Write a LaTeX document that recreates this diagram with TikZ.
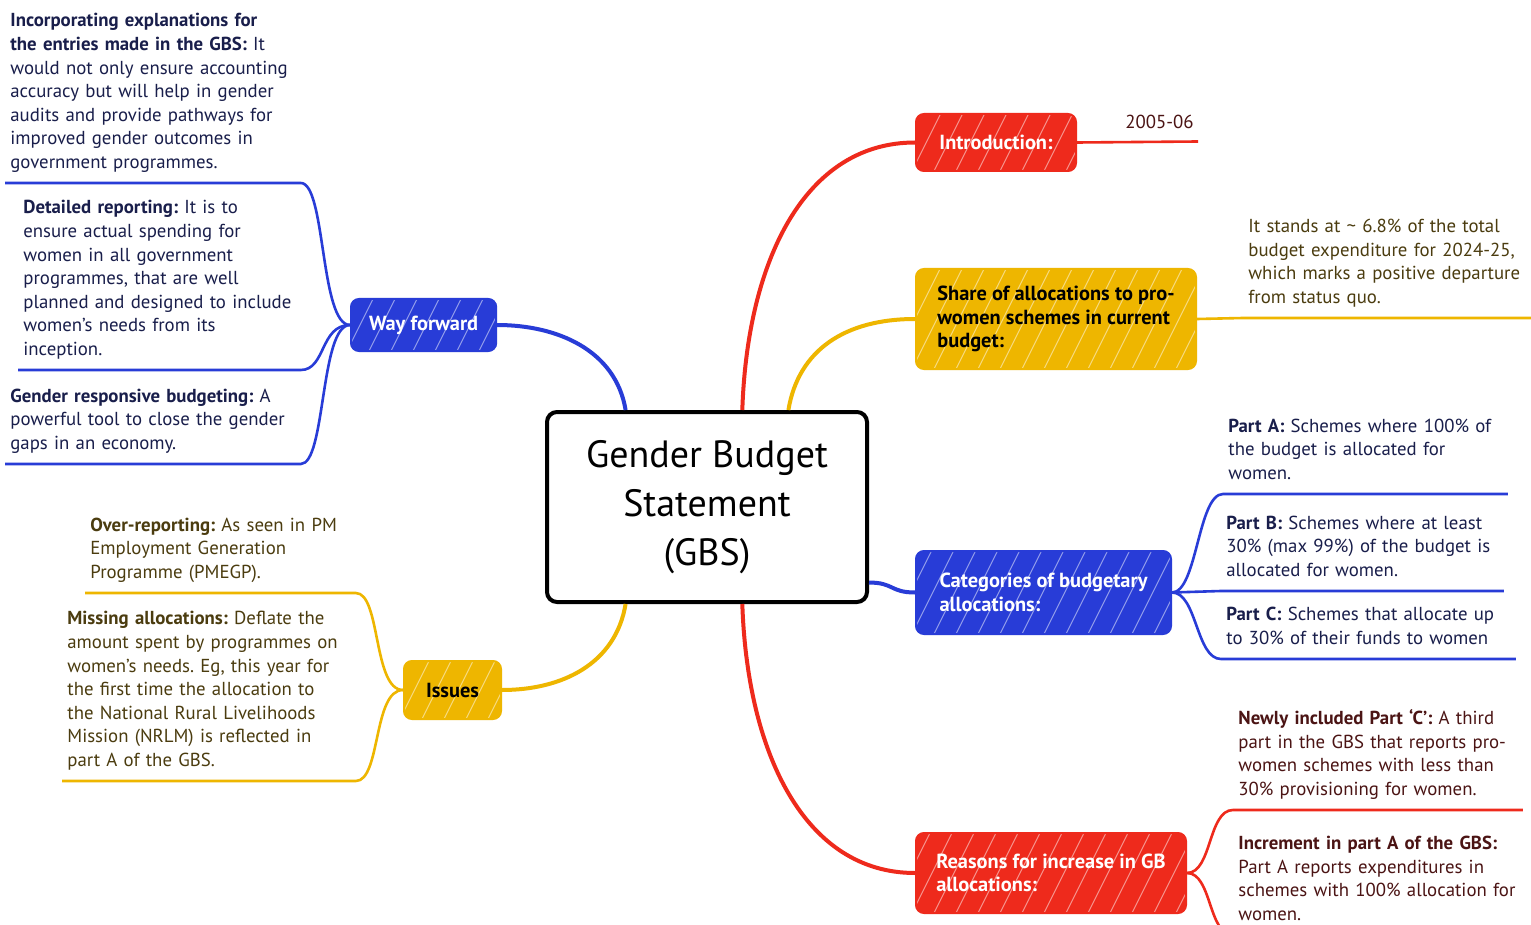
\documentclass[tikz,border=0pt]{standalone}
\usepackage{fontspec}
\setmainfont{PT Sans}
\frenchspacing

\definecolor{mmred}{RGB}{238,42,28}
\definecolor{mmyellow}{RGB}{238,182,0}
\definecolor{mmblue}{RGB}{40,60,215}
\definecolor{txtblue}{RGB}{25,30,75}
\definecolor{txtolive}{RGB}{75,60,15}
\definecolor{txtred}{RGB}{75,20,20}

\begin{document}
\begin{tikzpicture}[x=0.5pt,y=-0.5pt,
    topic/.style={anchor=north west, fill=#1, draw=#1, line width=1pt, rounded corners=4pt,
      path picture={\foreach \k in {0,...,14}
        \draw[white, line width=0.5pt, opacity=0.5]
          ([xshift=\k*11pt-14pt, yshift=-2pt]path picture bounding box.south west) -- ++(28pt,56pt);},
      align=left, font=\bfseries\fontsize{10.2}{11.75}\selectfont, inner xsep=9pt},
    leaf/.style={anchor=south west, text width=#1, align=left, inner xsep=2.5pt,
      inner ysep=3.5pt, font=\fontsize{9.4}{11.8}\selectfont,
      execute at end node=\strut},
    trunk/.style={line width=2pt, #1},
    twig/.style={line width=1.3pt, #1}]
  \path[use as bounding box, fill=white] (0,0) rectangle (1531,925);
  % centre
  \node[draw, line width=2pt, rounded corners=5pt, anchor=north west,
    minimum width=160pt, minimum height=95pt, align=center,
    font=\fontsize{19}{24.5}\selectfont] (gbs) at (545,410)
    {Gender Budget\\Statement\\(GBS)};
  % main topics
  \node[topic=mmred, text=white, minimum width=80pt, minimum height=28.5pt]
    (intro) at (915,113) {Introduction:};
  \node[topic=mmyellow, text=black, minimum width=140pt, minimum height=50pt]
    (share) at (915,268) {Share of allocations to pro-\\women schemes in current\\budget:};
  \node[topic=mmblue, text=white, minimum width=127.5pt, minimum height=41.5pt]
    (categ) at (915,550) {Categories of budgetary\\allocations:};
  \node[topic=mmred, text=white, minimum width=135pt, minimum height=40pt]
    (reasons) at (915,832) {Reasons for increase in GB\\allocations:};
  \node[topic=mmblue, text=white, minimum width=72.5pt, minimum height=26pt]
    (way) at (350,298) {Way forward};
  \node[topic=mmyellow, text=black, minimum width=48.5pt, minimum height=29pt]
    (issues) at (403,660) {Issues};
  % right side texts
  \node[anchor=south east, inner xsep=2pt, inner ysep=6pt, text=txtred,
    font=\fontsize{9.4}{11.8}\selectfont] (year) at (1198,141.5) {2005-06};
  \node[leaf=139pt, text=txtolive] (sharetxt) at (1243,318)
    {It stands at \textasciitilde{} 6.8\% of the total\\budget expenditure for 2024-25,\\which marks a positive departure\\from status quo.};
  \node[leaf=137pt, text=txtblue] (parta) at (1223,494)
    {\textbf{Part A:} Schemes where 100\% of\\the budget is allocated for\\women.};
  \node[leaf=136pt, text=txtblue] (partb) at (1221,591)
    {\textbf{Part B:} Schemes where at least\\30\% (max 99\%) of the budget is\\allocated for women.};
  \node[leaf=142pt, text=txtblue] (partc) at (1221,659)
    {\textbf{Part C:} Schemes that allocate up\\to 30\% of their funds to women};
  \node[leaf=139.5pt, text=txtred] (newc) at (1233,810)
    {\textbf{Newly included Part `C':} A third\\part in the GBS that reports pro-\\women schemes with less than\\30\% provisioning for women.};
  \node[leaf=139.5pt, text=txtred] (incra) at (1233,935)
    {\textbf{Increment in part A of the GBS:}\\Part A reports expenditures in\\schemes with 100\% allocation for\\women.};
  % left side texts
  \node[leaf=142.5pt, text=txtblue] (explain) at (5,183)
    {\textbf{Incorporating explanations for}\\\textbf{the entries made in the GBS:} It\\would not only ensure accounting\\accuracy but will help in gender\\audits and provide pathways for\\improved gender outcomes in\\government programmes.};
  \node[leaf=136pt, text=txtblue] (detail) at (18,370)
    {\textbf{Detailed reporting:} It is to\\ensure actual spending for\\women in all government\\programmes, that are well\\planned and designed to include\\women's needs from its\\inception.};
  \node[leaf=142.5pt, text=txtblue] (grb) at (5,464)
    {\textbf{Gender responsive budgeting:} A\\powerful tool to close the gender\\gaps in an economy.};
  \node[leaf=130pt, text=txtolive] (overrep) at (85,593)
    {\textbf{Over-reporting:} As seen in PM\\Employment Generation\\Programme (PMEGP).};
  \node[leaf=141.5pt, text=txtolive] (missing) at (62,781)
    {\textbf{Missing allocations:} Deflate the\\amount spent by programmes on\\women's needs. Eg, this year for\\the first time the allocation to\\the National Rural Livelihoods\\Mission (NRLM) is reflected in\\part A of the GBS.};
  % trunks
  \draw[trunk=mmred] (gbs.70) .. controls +(5,-150) and +(-110,0) .. (intro.west);
  \draw[trunk=mmyellow] (gbs.50) .. controls +(10,-60) and +(-70,0) .. (share.west);
  \draw[trunk=mmblue] (gbs.-25) .. controls +(25,0) and +(-25,0) .. (categ.west);
  \draw[trunk=mmred] (gbs.-70) .. controls +(5,150) and +(-110,0) .. (reasons.west);
  \draw[trunk=mmblue] (gbs.130) .. controls +(-10,-60) and +(60,0) .. (way.east);
  \draw[trunk=mmyellow] (gbs.-130) .. controls +(-10,60) and +(60,0) .. (issues.east);
  % twigs
  \draw[twig=mmred] (intro.east) -- (year.south east);
  \draw[twig=mmyellow] (share.east) -- (sharetxt.south west) -- (sharetxt.south east);
  \draw[twig=mmblue] (categ.east) .. controls +(25,0) and +(-25,0) .. (parta.south west) -- (parta.south east);
  \draw[twig=mmblue] (categ.east) -- (partb.south west) -- (partb.south east);
  \draw[twig=mmblue] (categ.east) .. controls +(25,0) and +(-25,0) .. (partc.south west) -- (partc.south east);
  \draw[twig=mmred] (reasons.east) .. controls +(25,0) and +(-25,0) .. (newc.south west) -- (newc.south east);
  \draw[twig=mmred] (reasons.east) .. controls +(25,0) and +(-25,0) .. (incra.south west) -- (incra.south east);
  \draw[twig=mmblue] (way.west) .. controls +(-30,0) and +(25,0) .. (explain.south east) -- (explain.south west);
  \draw[twig=mmblue] (way.west) .. controls +(-30,0) and +(25,0) .. (detail.south east) -- (detail.south west);
  \draw[twig=mmblue] (way.west) .. controls +(-30,0) and +(25,0) .. (grb.south east) -- (grb.south west);
  \draw[twig=mmyellow] (issues.west) .. controls +(-30,0) and +(25,0) .. (overrep.south east) -- (overrep.south west);
  \draw[twig=mmyellow] (issues.west) .. controls +(-30,0) and +(25,0) .. (missing.south east) -- (missing.south west);
\end{tikzpicture}
\end{document}
